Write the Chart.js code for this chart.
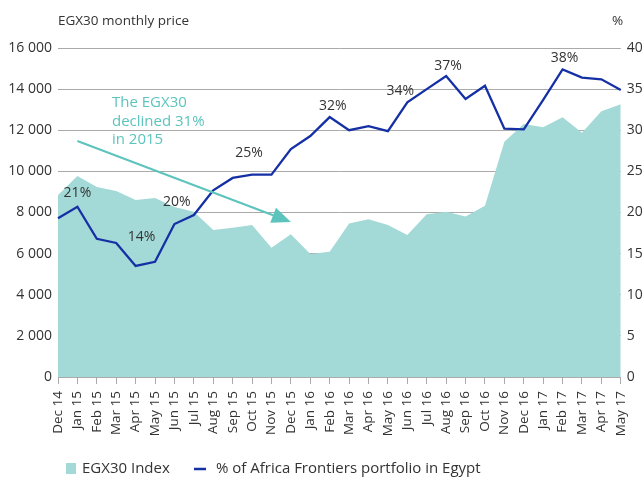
<!DOCTYPE html>
<html>
<head>
<meta charset="utf-8">
<script src="https://cdn.jsdelivr.net/npm/chart.js@4.4.0/dist/chart.umd.min.js"></script>
<style>
  html, body { margin: 0; padding: 0; background: #fff; }
  #wrap { width: 644px; height: 478px; position: relative; }
</style>
</head>
<body>
<div id="wrap"><canvas id="egx"></canvas></div>
<script>
// Monthly data, Dec 14 - May 17
const months = ['Dec 14','Jan 15','Feb 15','Mar 15','Apr 15','May 15','Jun 15','Jul 15','Aug 15','Sep 15','Oct 15','Nov 15',
    'Dec 15','Jan 16','Feb 16','Mar 16','Apr 16','May 16','Jun 16','Jul 16','Aug 16','Sep 16','Oct 16','Nov 16',
    'Dec 16','Jan 17','Feb 17','Mar 17','Apr 17','May 17'];
const egx30Index = [8850, 9780, 9240, 9050, 8610, 8700, 8270, 8040, 7150, 7260, 7390, 6290,
    6940, 5980, 6090, 7470, 7670, 7390, 6900, 7910, 8040, 7800, 8330, 11440,
    12300, 12140, 12630, 11880, 12930, 13260];
const egyptShare = [19.3, 20.7, 16.8, 16.3, 13.5, 14.0, 18.6, 19.7, 22.7, 24.2, 24.6, 24.6,
    27.7, 29.3, 31.6, 30.0, 30.5, 29.9, 33.4, 35.0, 36.6, 33.8, 35.4, 30.2,
    30.1, 33.7, 37.4, 36.4, 36.2, 34.9];
const leftTicks = [0, 2000, 4000, 6000, 8000, 10000, 12000, 14000, 16000];
const rightTicks = [0, 5, 10, 15, 20, 25, 30, 35, 40];
// labelled points on the share line: [index, text]
const shareLabels = [[1, '21%'], [4, '14%'], [7, '20%'], [10, '25%'], [14, '32%'], [18, '34%'], [20, '37%'], [26, '38%']];
const noteLines = ['The EGX30', 'declined 31%', 'in 2015'];

const FONT = "'Open Sans', sans-serif";
const TEXT = '#333333';
const AREA = '#a3d9d6';
const LINE = '#1530a5';
const NOTE = '#5cc4bc';

function fmtThousands(v){ return String(v).replace(/\B(?=(\d{3})+(?!\d))/g, ' '); }

// text offsets per labelled point (label sits above/left of the point)
const labelOffsets = { 1: [0, -14], 4: [6, -29], 7: [-17, -13], 10: [-3, -22], 14: [3, -11], 18: [-7, -11], 20: [2, -10], 26: [2, -11] };

const overlay = {
    id: 'overlay',
    afterDatasetsDraw(chart){
        const c = chart.ctx;
        const x = chart.scales.x, yl = chart.scales.y, yr = chart.scales.y1;
        c.save();
        // axis titles
        c.font = '13.5px ' + FONT;
        c.fillStyle = TEXT;
        c.textBaseline = 'middle';
        c.textAlign = 'left';
        c.fillText('EGX30 monthly price', 58, 21);
        c.fillText('%', 612, 21);

        // point labels
        c.font = '14px ' + FONT;
        c.textAlign = 'center';
        shareLabels.forEach(([i, t])=>{
            const off = labelOffsets[i] || [0, -12];
            c.fillText(t, x.getPixelForValue(i) + off[0], yr.getPixelForValue(egyptShare[i]) + off[1]);
        });

        // annotation note and arrow
        c.fillStyle = NOTE;
        c.font = '15px ' + FONT;
        c.textAlign = 'left';
        const nx = x.getPixelForValue(2.78);
        noteLines.forEach((t, k)=>{ c.fillText(t, nx, 103 + k * 18.5); });
        const x0 = x.getPixelForValue(1), y0 = yl.getPixelForValue(11480);
        const x1 = x.getPixelForValue(12), y1 = yl.getPixelForValue(7540);
        const ang = Math.atan2(y1 - y0, x1 - x0);
        const hl = 19, hw = 8;
        const bx = x1 - hl * Math.cos(ang), by = y1 - hl * Math.sin(ang);
        c.strokeStyle = NOTE;
        c.lineWidth = 2;
        c.beginPath(); c.moveTo(x0, y0); c.lineTo(bx, by); c.stroke();
        c.beginPath();
        c.moveTo(x1, y1);
        c.lineTo(bx + hw * Math.sin(ang), by - hw * Math.cos(ang));
        c.lineTo(bx - hw * Math.sin(ang), by + hw * Math.cos(ang));
        c.closePath(); c.fill();

        // legend
        c.font = '15px ' + FONT;
        c.fillStyle = AREA;
        c.fillRect(66, 463, 10, 11);
        c.fillStyle = TEXT;
        c.fillText(chart.data.datasets[1].label, 82, 469);
        c.strokeStyle = LINE;
        c.lineWidth = 2.5;
        c.beginPath(); c.moveTo(194, 469); c.lineTo(206, 469); c.stroke();
        c.fillText(chart.data.datasets[0].label, 216, 469);
        c.restore();
    }
};

new Chart(document.getElementById('egx'), {
    type: 'line',
    data: {
        labels: months,
        datasets: [
            {
                label: '% of Africa Frontiers portfolio in Egypt',
                data: egyptShare,
                yAxisID: 'y1',
                borderColor: LINE,
                borderWidth: 2.3,
                pointRadius: 0,
                tension: 0,
                fill: false,
                order: 0
            },
            {
                label: 'EGX30 Index',
                data: egx30Index,
                yAxisID: 'y',
                borderWidth: 0,
                backgroundColor: AREA,
                pointRadius: 0,
                tension: 0,
                fill: 'origin',
                order: 1
            }
        ]
    },
    options: {
        responsive: true,
        maintainAspectRatio: false,
        animation: false,
        layout: { padding: { top: 48, bottom: 30, left: 0, right: 0 } },
        plugins: { legend: { display: false }, tooltip: { enabled: false } },
        scales: {
            x: {
                offset: false,
                grid: { drawOnChartArea: false, drawTicks: true, tickLength: 7, color: '#aaaaaa' },
                border: { color: '#aaaaaa' },
                ticks: { color: TEXT, font: { family: FONT, size: 13.5 }, maxRotation: 90, minRotation: 90, autoSkip: false, padding: 7 },
                afterFit(s){ s.height = 71; }
            },
            y: {
                position: 'left',
                min: 0, max: 16000,
                afterBuildTicks(s){ s.ticks = leftTicks.map(v=>({ value: v })); },
                grid: { color: '#aaaaaa', drawTicks: false },
                border: { display: false },
                ticks: { color: TEXT, font: { family: FONT, size: 14 }, padding: 6, callback: v=>fmtThousands(v) },
                afterFit(s){ s.width = 58; }
            },
            y1: {
                position: 'right',
                min: 0, max: 40,
                afterBuildTicks(s){ s.ticks = rightTicks.map(v=>({ value: v })); },
                grid: { drawOnChartArea: false, drawTicks: false },
                border: { display: false },
                ticks: { color: TEXT, font: { family: FONT, size: 14 }, padding: 6 },
                afterFit(s){ s.width = 23; }
            }
        }
    },
    plugins: [overlay]
});
</script>
</body>
</html>
